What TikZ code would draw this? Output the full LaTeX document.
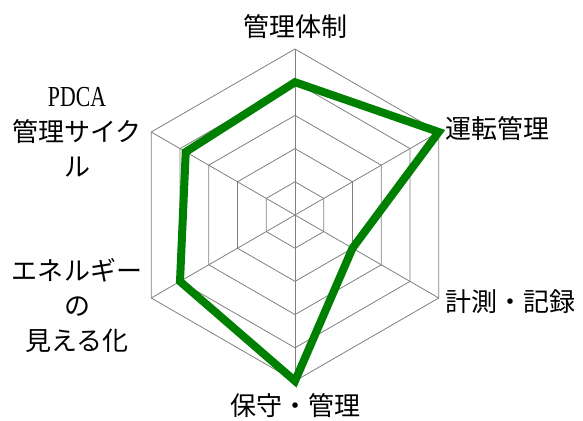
\documentclass[tikz,border=0pt]{standalone}
\usepackage{fontspec}
\usepackage{graphicx}
\setmainfont{Noto Sans CJK JP}
\newfontfamily\latinserif{Liberation Serif}
\tikzset{
  gridline/.style={draw=gray, line width=0.8pt},
  scoreline/.style={draw={rgb,255:red,0;green,128;blue,0}, line width=8pt},
  axislabel/.style={font=\fontsize{26}{35}\selectfont, align=center, inner sep=0pt}
}
\begin{document}
\begin{tikzpicture}[x=1pt,y=1pt]
\useasboundingbox (0,0) rectangle (583,420);
\begin{scope}[shift={(295,205)}]
% grid
\foreach \r in {1,...,5}
  \draw[gridline] (90:{\r*33.2}) -- (30:{\r*33.2}) -- (-30:{\r*33.2}) -- (-90:{\r*33.2}) -- (210:{\r*33.2}) -- (150:{\r*33.2}) -- cycle;
\foreach \a in {90,30,-30,-90,210,150}
  \draw[gridline] (0,0) -- (\a:166);
% scores
\draw[scoreline] (90:{4*33.2}) -- (30:{5*33.2}) -- (-30:{2*33.2}) -- (-90:{5*33.2}) -- (210:{4*33.2}) -- (150:{3.8*33.2}) -- cycle;
\end{scope}
\node[axislabel] (taisei) at (295,393) {管理体制};
\node[axislabel, anchor=west] (unten) at (445,291) {運転管理};
\node[axislabel, anchor=west] (keisoku) at (445,118) {計測・記録};
\node[axislabel] (hoshu) at (295,14) {保守・管理};
\node[axislabel] (energy) at (77,115) {エネルギー\\の\\見える化};
\node[axislabel] (pdca) at (77,288) {\scalebox{0.75}[1]{\latinserif\fontsize{29}{35}\selectfont PDCA}\\管理サイク\\ル};
\end{tikzpicture}
\end{document}
